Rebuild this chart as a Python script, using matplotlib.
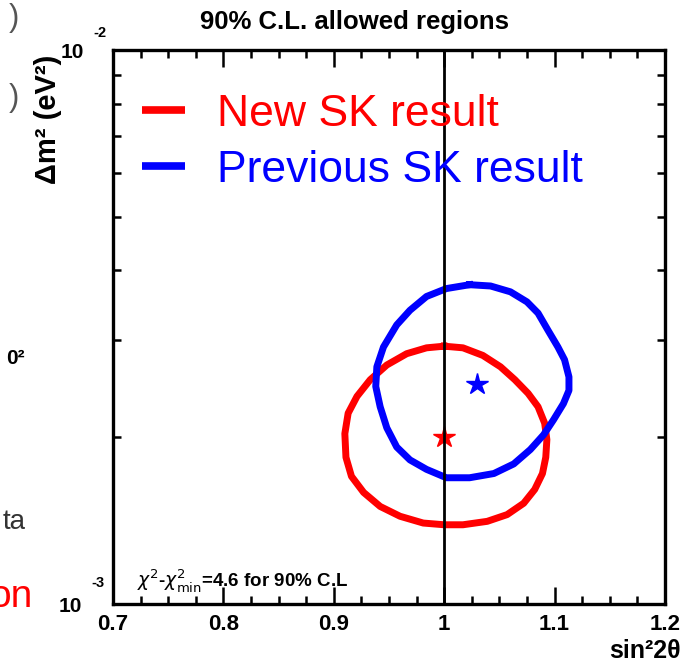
import matplotlib
matplotlib.use("Agg")
import matplotlib.pyplot as plt
from matplotlib.ticker import FixedLocator, NullFormatter, LogLocator

plt.rcParams['font.family'] = ['Liberation Sans', 'DejaVu Sans']

# 90% C.L. contours (sin^2 2theta, dm^2 in eV^2)
new_x = [1.000, 1.017, 1.035, 1.051, 1.064, 1.076, 1.085, 1.091, 1.093, 1.092,
         1.089, 1.082, 1.072, 1.057, 1.039, 1.017, 1.000, 0.981, 0.960, 0.942,
         0.927, 0.916, 0.911, 0.910, 0.913, 0.921, 0.933, 0.948, 0.966, 0.984, 1.000]
new_y = [2.92e-3, 2.90e-3, 2.81e-3, 2.68e-3, 2.54e-3, 2.40e-3, 2.27e-3, 2.12e-3, 1.98e-3, 1.84e-3,
         1.72e-3, 1.61e-3, 1.52e-3, 1.45e-3, 1.41e-3, 1.39e-3, 1.39e-3, 1.40e-3, 1.44e-3, 1.50e-3,
         1.59e-3, 1.70e-3, 1.84e-3, 2.03e-3, 2.21e-3, 2.37e-3, 2.54e-3, 2.70e-3, 2.83e-3, 2.90e-3, 2.92e-3]

prev_x = [1.023, 1.042, 1.060, 1.075, 1.085, 1.094, 1.103, 1.109, 1.113, 1.113,
          1.108, 1.099, 1.090, 1.078, 1.063, 1.045, 1.023, 1.002, 0.984, 0.969,
          0.957, 0.948, 0.942, 0.938, 0.939, 0.945, 0.957, 0.969, 0.984, 1.002, 1.023]
prev_y = [3.77e-3, 3.75e-3, 3.66e-3, 3.51e-3, 3.35e-3, 3.12e-3, 2.91e-3, 2.76e-3, 2.57e-3, 2.43e-3,
          2.30e-3, 2.15e-3, 2.02e-3, 1.90e-3, 1.79e-3, 1.72e-3, 1.69e-3, 1.69e-3, 1.75e-3, 1.82e-3,
          1.92e-3, 2.08e-3, 2.27e-3, 2.47e-3, 2.68e-3, 2.91e-3, 3.19e-3, 3.39e-3, 3.59e-3, 3.71e-3, 3.77e-3]

# best fit points
new_best = (1.00, 2.0e-3)
prev_best = (1.03, 2.5e-3)

labels = ["New SK result", "Previous SK result"]
colors = ["#ff0000", "#0000ff"]

x_ticks = [0.7, 0.8, 0.9, 1.0, 1.1, 1.2]
x_tick_labels = ["0.7", "0.8", "0.9", "1", "1.1", "1.2"]

W, H = 684, 667


def fx(px):
    return px / W


def fy(py):
    return 1 - py / H


fig = plt.figure(figsize=(6.84, 6.67), dpi=100)
ax = fig.add_axes([fx(113), fy(604), fx(665) - fx(113), fy(50) - fy(604)])

ax.plot(new_x, new_y, color=colors[0], lw=5, solid_joinstyle='round', label=labels[0])
ax.plot(prev_x, prev_y, color=colors[1], lw=5, solid_joinstyle='round', label=labels[1])
ax.plot(*new_best, marker='*', color=colors[0], ms=16, mec=colors[0])
ax.plot(*prev_best, marker='*', color=colors[1], ms=16, mec=colors[1])
ax.axvline(1.0, color='black', lw=2)

ax.set_xlim(0.7, 1.2)
ax.set_yscale('log')
ax.set_ylim(1e-3, 1e-2)

ax.set_xticks(x_ticks)
ax.set_xticklabels(x_tick_labels, fontsize=16, fontweight='bold')
ax.xaxis.set_minor_locator(FixedLocator([0.7 + 0.025 * i for i in range(21)]))
ax.yaxis.set_major_locator(FixedLocator([1e-3, 1e-2]))
ax.yaxis.set_minor_locator(LogLocator(base=10, subs=range(2, 10)))
ax.yaxis.set_major_formatter(NullFormatter())
ax.yaxis.set_minor_formatter(NullFormatter())
ax.tick_params(which='both', direction='in', top=True, right=True, width=1.8)
ax.tick_params(which='major', length=12, pad=7)
ax.tick_params(which='minor', length=6)
for s in ax.spines.values():
    s.set_linewidth(2.4)

# y tick labels drawn as 10 with exponent
fig.text(fx(72), fy(52), "10", fontsize=15, fontweight='bold', ha='center', va='center')
fig.text(fx(100), fy(33), "-2", fontsize=10.5, fontweight='bold', ha='center', va='center')
fig.text(fx(70), fy(606), "10", fontsize=15, fontweight='bold', ha='center', va='center')
fig.text(fx(98), fy(583), "-3", fontsize=10.5, fontweight='bold', ha='center', va='center')

fig.text(fx(681), fy(651), "sin²2θ", fontsize=18, fontweight='bold', ha='right', va='center')
fig.text(fx(48), fy(119), "Δm² (eV²)", fontsize=21, fontweight='bold', rotation=90,
         ha='center', va='center')
fig.text(fx(354), fy(22), "90% C.L. allowed regions", fontsize=18.5, fontweight='bold',
         ha='center', va='center')
fig.text(fx(137), fy(580), r"$\chi^2$-$\chi^2_{\mathrm{min}}$=4.6 for 90% C.L",
         fontsize=13.5, fontweight='bold', ha='left', va='center')

leg = ax.legend(loc='upper left', bbox_to_anchor=(0.0525, 0.921), frameon=False,
                fontsize=32, handlelength=0.97, handletextpad=0.72, labelspacing=0.34,
                borderpad=0, borderaxespad=0, labelcolor='linecolor')
for line in leg.get_lines():
    line.set_linewidth(5.5)
    line.set_solid_capstyle('butt')

# fragments of neighbouring slide text cut by the left edge
fig.text(fx(19), fy(18), ")", fontsize=22, color='#555555', ha='right', va='center')
fig.text(fx(19), fy(98), ")", fontsize=22, color='#555555', ha='right', va='center')
fig.text(fx(25), fy(358), "0²", fontsize=15, fontweight='bold', ha='right', va='center')
fig.text(fx(26), fy(522), "ta", fontsize=20, color='#333333', ha='right', va='center')
fig.text(fx(33), fy(597), "on", fontsize=28, color='#ff0000', ha='right', va='center')

fig.savefig("out.png", dpi=100)
